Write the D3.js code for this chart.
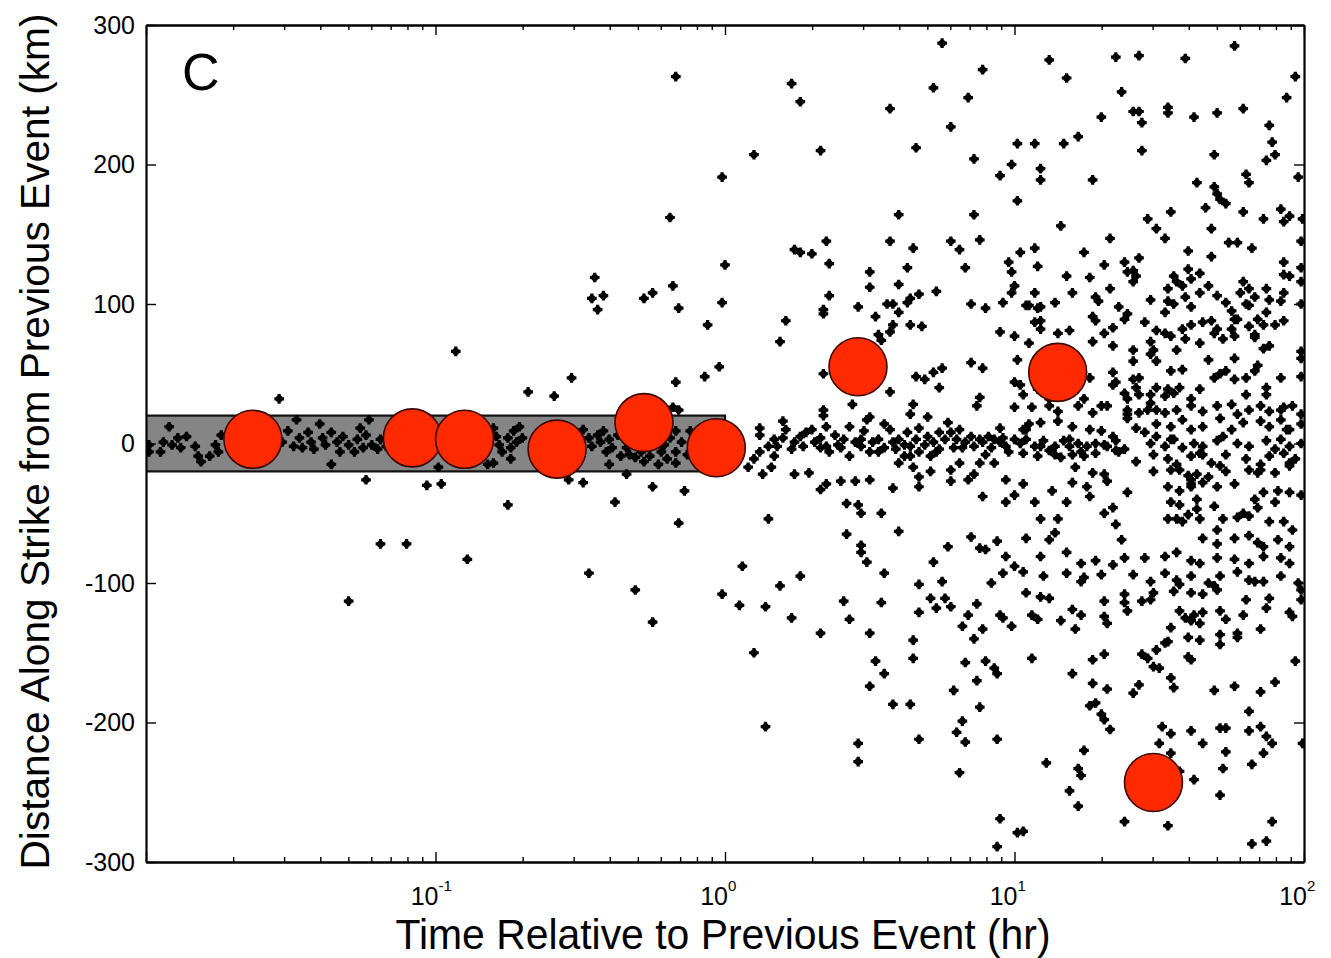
<!DOCTYPE html>
<html>
<head>
<meta charset="utf-8">
<script src="https://cdn.jsdelivr.net/npm/d3@7"></script>
<style>
  body { margin: 0; background: #fff; }
  svg { display: block; }
  text { font-family: "Liberation Sans", Arial, Helvetica, sans-serif; fill: #000; }
</style>
</head>
<body>
<svg id="chart" width="1331" height="958"></svg>
<script>
// ---- data -------------------------------------------------------------
// x: time relative to previous event (hr), y: distance along strike (km)
const xTickExponents = [-1, 0, 1, 2];
const yTickValues = [-300, -200, -100, 0, 100, 200, 300];
const panelLabel = "C";
const xTitle = "Time Relative to Previous Event (hr)";
const yTitle = "Distance Along Strike from Previous Event (km)";

// highlighted window: first hour, within 20 km
const windowHours = [0.01, 1];
const windowKm = [-20, 20];

// large events
const largeHours = [0.0234, 0.0832, 0.126, 0.263, 0.525, 0.933, 2.88, 14.1, 30.2];
const largeKm = [3, 4, 3, -4, 15, -3, 55, 51, -243];

// event pairs stored as [log10(time in hr), distance in km]
const earlyEvents = [
  [-0.93,66],[-1.54,32],[-0.68,37],[-0.59,34],[-0.53,47],[-0.17,263],[-0.01,191],[-0.19,162],[-0.45,119],[-0.46,104],
  [-0.42,106],[-0.44,96],[-0.28,104],[-0.25,108],[-0.18,113],[-0.16,97],[-0.01,101],[-0.06,85],[-0.02,55],[-0.07,48],
  [-0.17,44],[-0.18,26],[-1.30,-113],[-1.19,-72],[-1.10,-72],[-0.89,-83],[-0.75,-44],[-1.03,-30],[-0.98,-29],[-1.24,-26],
  [-0.54,-26],[-0.49,-28],[-0.38,-42],[-0.25,-31],[-0.14,-34],[-0.16,-57],[-0.47,-93],[-0.31,-105],[-0.25,-128],[-0.01,-108],
  [-0.99,-17],[-0.34,-22],[-0.16,24],
  [-1.92,12],[-1.99,-1],[-1.99,-6],[-1.94,1],[-1.95,-6],[-1.91,-1],[-1.89,4],[-1.88,-3],[-1.86,5],[-1.83,-2],
  [-1.82,-9],[-1.81,-13],[-1.78,-9],[-1.76,-1],[-1.74,6],[-1.75,-6],[-1.53,1],[-1.51,9],[-1.49,-2],[-1.48,17],
  [-1.47,4],[-1.46,-3],[-1.44,8],[-1.43,1],[-1.42,-4],[-1.40,14],[-1.39,4],[-1.38,-1],[-1.36,8],[-1.36,-15],
  [-1.34,1],[-1.33,-6],[-1.32,5],[-1.30,-1],[-1.28,-6],[-1.27,3],[-1.26,11],[-1.25,-3],[-1.24,6],[-1.23,17],
  [-1.22,-1],[-1.20,-4],[-1.19,3],[-1.17,-2],
  [-0.80,11],[-0.79,5],[-0.78,-1],[-0.77,-6],[-0.75,4],[-0.74,-3],[-0.73,9],[-0.71,12],[-0.72,1],[-0.70,4],
  [-0.74,-11],[-0.80,-14],[-0.82,-15],[-0.49,10],[-0.47,4],[-0.46,-2],[-0.44,6],[-0.43,1],[-0.42,9],[-0.41,-6],
  [-0.40,3],[-0.39,-3],[-0.40,-15],[-0.37,6],[-0.36,-9],[-0.34,-3],[-0.33,-8],[-0.31,-10],[-0.29,-6],[-0.28,-13],
  [-0.26,-9],[-0.23,-15],[-0.22,-6],[-0.21,-1],[-0.20,-11],[-0.19,4],[-0.17,9],[-0.17,-6],[-0.15,1],[-0.13,-8],
  [-0.12,9],[-0.11,-3],[-0.17,-14]
];

const hourEvents = [
  [0.00,128],[0.05,-116],
  [0.75,287],[0.89,268],[0.23,258],[0.26,245],[0.72,255],[0.84,248],[0.57,240],[0.78,227],[0.10,207],[0.33,210],
  [0.66,212],[0.86,204],[1.01,215],[0.99,200],[0.95,192],[1.01,174],[0.60,164],[0.86,164],[0.24,139],[0.26,137],
  [0.30,136],[0.35,145],[0.36,129],[0.57,145],[0.65,140],[0.78,145],[0.81,139],[0.88,146],[0.83,126],[0.63,126],
  [0.50,123],[0.50,112],[0.60,114],[0.36,106],[0.67,107],[0.73,109],[0.98,130],[0.99,123],[0.99,108],[1.00,113],
  [0.96,101],[0.85,100],[0.90,97],[0.46,98],[0.56,100],[0.58,100],[0.63,101],[0.64,104],[0.34,96],
  [0.34,93],[0.52,91],[0.21,88],[0.19,73],[0.60,94],[0.58,85],[0.64,85],[0.68,84],[0.53,78],[0.57,80],
  [0.54,74],[0.95,80],[1.00,77],[0.85,58],[0.89,54],[0.75,54],[0.72,51],[0.69,46],[0.66,48],[0.74,40],
  [1.00,44],[0.34,50],[0.57,37],[0.44,28],[0.65,28],[0.64,21],[0.88,33],[0.87,27],[1.00,26],[0.34,24],[0.34,20],
  [0.20,16],[0.12,11],[0.12,6],[0.15,-2],[0.12,-6],[0.10,-11],[0.08,-17],[0.17,-9],[0.16,-17],[0.18,-2],
  [0.20,4],[0.21,10],[0.24,1],[0.26,5],[0.27,-2],[0.28,8],[0.30,10],[0.31,1],[0.33,-3],[0.35,-2],
  [0.35,12],[0.36,-6],[0.39,-1],[0.40,-3],[0.41,3],[0.43,-9],[0.43,12],[0.45,1],[0.47,-2],[0.48,9],
  [0.49,17],[0.50,19],[0.50,-6],[0.51,1],[0.53,3],[0.55,14],[0.55,-3],[0.57,10],[0.58,1],[0.59,-4],
  [0.60,3],[0.62,-9],[0.63,8],[0.64,-2],[0.64,-9],[0.66,3],[0.67,11],[0.67,-6],[0.69,-1],[0.70,19],
  [0.70,5],[0.71,-9],[0.72,1],[0.74,8],[0.74,-4],[0.76,3],[0.77,15],[0.78,8],[0.79,-3],[0.80,3],
  [0.81,10],[0.83,1],[0.85,5],[0.86,-2],[0.88,3],[0.89,1],[0.91,5],[0.92,-3],[0.93,3],[0.95,11],
  [0.95,1],[0.97,-2],[1.00,3],[0.60,-14],[0.65,-17],[0.67,-24],[0.71,-20],[0.78,-19],[0.81,-14],[0.84,-26],
  [0.86,-22],[0.88,-14],[0.93,-14],[0.97,-26],
  [0.23,-4],[0.38,6],[0.53,-6],[0.62,-1],[0.73,-6],[0.82,-3],[0.90,-8],[0.96,4],[0.98,-6],[0.47,3],
  [0.33,4],[0.17,3],
  [0.13,-22],[0.24,-22],[0.29,-21],[0.33,-33],[0.35,-29],[0.40,-27],[0.45,-27],[0.50,-26],[0.58,-32],[0.67,-31],
  [0.78,-27],[0.89,-38],[0.97,-42],[1.00,-37],[0.42,-43],[0.46,-44],[0.47,-50],[0.54,-50],[0.15,-54],[0.42,-65],
  [0.60,-63],[0.47,-73],[0.47,-78],[0.49,-85],[0.77,-74],[0.85,-67],[0.88,-75],[0.90,-76],[0.94,-70],[0.97,-81],
  [1.00,-88],[0.06,-88],[0.26,-95],[0.19,-102],[0.55,-93],[0.72,-85],[0.75,-99],[0.67,-101],[0.92,-100],[0.96,-93],
  [0.14,-117],[0.23,-125],[0.41,-113],[0.43,-126],[0.54,-114],[0.33,-136],[0.50,-136],[0.10,-150],[0.65,-141],[0.65,-154],
  [0.52,-156],[0.55,-165],[0.50,-174],[0.58,-187],[0.64,-187],[0.14,-203],[0.46,-215],[0.46,-228],[0.67,-212],[0.67,-121],
  [0.71,-111],[0.76,-111],[0.73,-118],[0.78,-117],[0.84,-123],[0.87,-115],[0.82,-131],[0.89,-133],[0.86,-140],[0.95,-123],
  [0.96,-125],[0.99,-131],[0.83,-157],[0.90,-156],[0.93,-161],[0.94,-165],[0.87,-170],[0.79,-177],[0.88,-189],[0.82,-199],
  [0.80,-207],[0.83,-214],[0.94,-212],[0.81,-236],[0.95,-269],[1.01,-279],[0.94,-289]
];

const dayEvents = [
  [1.12,275],[1.35,277],[1.43,278],[1.59,276],[1.76,285],[1.18,262],[1.97,263],[1.37,252],[1.94,248],[1.30,234],
  [1.41,238],[1.43,238],[1.44,230],[1.53,241],[1.53,237],[1.62,234],[1.70,237],[1.79,240],[1.88,228],[1.89,216],
  [1.90,207],[1.87,203],[1.07,215],[1.17,215],[1.22,220],[1.44,210],[1.69,207],[1.09,197],[1.09,189],[1.27,189],
  [1.63,187],[1.69,184],[1.70,179],[1.71,175],[1.73,172],[1.80,193],[1.81,187],[1.98,191],[1.66,169],[1.79,166],
  [1.86,161],[1.92,168],[1.95,163],[1.93,159],[1.995,161],[1.99,145],[1.16,156],[1.46,161],[1.54,166],[1.49,154],
  [1.52,147],[1.68,154],[1.33,147],[1.02,137],[1.07,140],[1.24,137],[1.74,144],[1.77,144],[1.82,140],[1.60,138],
  [1.68,134],[1.08,127],[1.18,120],[1.26,119],[1.31,128],[1.38,130],[1.43,133],[1.39,123],[1.41,124],[1.42,120],
  [1.41,116],[1.07,108],[1.20,108],[1.28,105],[1.29,102],[1.33,111],[1.14,101],[1.05,99],[1.09,98],[1.36,98],
  [1.47,103],[1.55,120],[1.56,116],[1.58,113],[1.60,125],[1.61,118],[1.64,122],[1.67,113],[1.53,111],[1.53,102],
  [1.59,105],[1.61,98],[1.64,108],[1.70,106],[1.73,101],[1.79,116],[1.78,108],[1.81,111],[1.83,105],[1.87,111],
  [1.88,103],[1.93,121],[1.95,120],[1.93,130],[1.93,108],[1.99,126],[1.99,116],[1.99,100],
  [1.04,99],[1.08,97],[1.39,93],[1.52,94],[1.55,100],[1.75,95],[1.81,99],[1.87,94],[1.92,102],
  [1.07,87],[1.09,88],[1.09,82],[1.15,79],[1.19,81],[1.27,91],[1.28,88],[1.31,79],[1.34,83],[1.38,89],
  [1.45,87],[1.49,81],[1.52,79],[1.58,82],[1.61,85],[1.65,87],[1.68,88],[1.70,82],[1.75,82],[1.77,89],
  [1.81,84],[1.84,89],[1.86,85],[1.90,85],[1.93,88],[1.76,89],[1.83,78],[1.86,68],[1.80,100],
  [1.05,72],[1.27,73],[1.34,70],[1.41,67],[1.47,73],[1.48,67],[1.54,77],[1.56,67],[1.59,75],[1.64,72],
  [1.69,79],[1.72,75],[1.76,77],[1.83,76],[1.88,70],[1.99,66],
  [1.01,60],[1.41,59],[1.47,64],[1.49,59],[1.67,60],[1.76,61],[1.84,56],[1.99,61],
  [1.26,47],[1.34,51],[1.35,44],[1.43,47],[1.54,52],[1.58,53],[1.49,40],[1.53,39],[1.57,40],[1.64,39],
  [1.69,47],[1.71,50],[1.73,52],[1.76,46],[1.80,47],[1.83,52],[1.87,40],[1.92,47],[1.99,48],[1.41,46],
  [1.02,42],[1.03,35],[1.08,39],[1.12,32],[1.24,32],[1.34,42],[1.38,36],[1.42,40],[1.47,35],[1.52,34],
  [1.55,36],[1.61,32],[1.80,35],[1.43,35],[1.87,35],
  [1.06,26],[1.12,27],[1.15,23],[1.22,27],[1.27,22],[1.30,27],[1.32,27],[1.39,32],[1.39,24],[1.43,22],
  [1.47,29],[1.49,24],[1.52,22],[1.56,24],[1.61,27],[1.65,23],[1.70,27],[1.75,28],[1.77,21],[1.81,24],
  [1.85,27],[1.88,23],[1.93,26],[1.96,27],[1.99,21],[1.46,24],[1.39,21],[1.92,24],
  [1.03,10],[1.05,14],[1.09,15],[1.15,16],[1.20,12],[1.26,10],[1.30,9],[1.39,18],[1.42,11],[1.45,8],
  [1.49,14],[1.54,12],[1.58,17],[1.61,10],[1.65,12],[1.71,18],[1.75,10],[1.79,15],[1.85,16],[1.88,12],
  [1.92,17],[1.94,10],[1.99,14],[1.04,10],[1.95,10],
  [1.02,0],[1.04,3],[1.07,-2],[1.10,2],[1.14,-2],[1.17,2],[1.19,-2],[1.22,0],[1.25,-2],[1.28,0],
  [1.32,-2],[1.35,2],[1.38,-4],[1.47,0],[1.49,5],[1.52,-2],[1.55,3],[1.58,-3],[1.62,0],[1.65,-2],
  [1.70,2],[1.72,5],[1.77,0],[1.81,-2],[1.87,2],[1.92,3],[1.95,-2],[1.99,0],
  [1.09,-2],[1.14,-8],[1.19,3],[1.23,-6],[1.31,-1],[1.36,-6],[1.34,5],[1.54,3],[1.65,-8],[1.57,-19],
  [1.90,-4],[1.97,-11],
  [1.03,-7],[1.08,-9],[1.12,-5],[1.16,-10],[1.20,-8],[1.24,-9],[1.28,-7],[1.35,-5],[1.42,-13],[1.48,-8],
  [1.53,-11],[1.56,-15],[1.61,-9],[1.64,-7],[1.68,-14],[1.73,-8],[1.80,-11],[1.85,-15],[1.88,-9],[1.93,-7],
  [1.95,-14],[1.85,-19],
  [1.21,-17],[1.27,-21],[1.31,-22],[1.32,-27],[1.48,-20],[1.54,-19],[1.60,-23],[1.61,-26],[1.63,-22],[1.65,-28],
  [1.71,-16],[1.73,-20],[1.81,-19],[1.84,-21],[1.90,-21],[1.95,-16],[1.67,-24],
  [1.03,-29],[1.13,-34],[1.20,-28],[1.25,-31],[1.26,-38],[1.39,-35],[1.53,-31],[1.57,-34],[1.61,-29],[1.70,-31],
  [1.76,-29],[1.83,-40],[1.86,-35],[1.91,-34],[1.95,-35],[1.99,-37],[1.61,-31],
  [1.07,-42],[1.18,-42],[1.31,-50],[1.34,-46],[1.54,-42],[1.57,-44],[1.63,-47],[1.69,-45],[1.79,-50],[1.84,-46],
  [1.90,-42],[1.63,-40],[1.60,-51],
  [1.09,-54],[1.15,-54],[1.35,-58],[1.53,-54],[1.56,-54],[1.58,-56],[1.64,-54],[1.70,-62],[1.72,-54],[1.77,-53],
  [1.81,-52],[1.88,-56],[1.93,-56],[1.96,-62],
  [1.04,-68],[1.12,-69],[1.14,-64],[1.37,-69],[1.65,-68],[1.70,-72],[1.76,-68],[1.81,-66],[1.84,-71],[1.86,-74],
  [1.91,-69],[1.95,-74],
  [1.09,-81],[1.18,-78],[1.23,-86],[1.28,-84],[1.34,-87],[1.38,-82],[1.45,-82],[1.52,-81],[1.56,-78],[1.61,-84],
  [1.64,-86],[1.70,-82],[1.76,-83],[1.81,-86],[1.86,-81],[1.92,-82],[1.95,-86],
  [1.03,-92],[1.10,-95],[1.18,-93],[1.24,-96],[1.30,-94],[1.41,-94],[1.47,-99],[1.52,-93],[1.56,-98],[1.61,-95],
  [1.67,-100],[1.71,-95],[1.77,-92],[1.81,-98],[1.86,-99],[1.92,-95],[1.98,-100],
  [1.04,-107],[1.09,-110],[1.12,-111],[1.23,-99],[1.31,-113],[1.38,-114],[1.39,-120],[1.38,-108],[1.44,-113],[1.47,-112],
  [1.48,-107],[1.55,-106],[1.57,-101],[1.61,-107],[1.65,-108],[1.69,-102],[1.70,-105],[1.80,-112],[1.83,-99],[1.88,-111],
  [1.99,-105],[1.99,-112],
  [1.06,-123],[1.08,-126],[1.16,-127],[1.20,-119],[1.23,-123],[1.21,-133],[1.31,-124],[1.32,-129],[1.57,-120],[1.59,-125],
  [1.61,-127],[1.62,-123],[1.64,-129],[1.65,-121],[1.71,-120],[1.73,-126],[1.79,-123],[1.87,-118],[1.95,-121],[1.96,-124],
  [1.54,-132],[1.60,-139],[1.64,-141],[1.71,-137],[1.71,-144],[1.77,-136],[1.77,-139],[1.85,-133],[1.52,-143],[1.53,-142],
  [1.06,-154],[1.27,-155],[1.31,-151],[1.44,-151],[1.46,-154],[1.48,-160],[1.50,-161],[1.49,-148],[1.60,-153],[1.61,-155],
  [1.97,-156],
  [1.20,-165],[1.27,-172],[1.32,-176],[1.41,-179],[1.43,-173],[1.54,-168],[1.55,-175],[1.69,-177],[1.76,-174],[1.85,-178],
  [1.90,-171],
  [1.26,-188],[1.28,-186],[1.30,-194],[1.31,-198],[1.33,-205],[1.51,-203],[1.54,-208],[1.50,-215],[1.61,-206],[1.65,-215],
  [1.71,-204],[1.73,-204],[1.73,-221],[1.81,-192],[1.81,-206],[1.85,-203],[1.87,-210],[1.89,-215],[1.86,-222],[1.82,-230],
  [1.995,-215],
  [1.11,-229],[1.24,-220],[1.22,-233],[1.23,-238],[1.19,-249],[1.22,-260],[1.54,-222],[1.57,-235],[1.62,-241],[1.72,-233],
  [1.71,-252],[1.38,-271],[1.53,-274],[1.89,-271],[1.82,-287],[1.87,-285],[1.03,-278]
];

// ---- layout -----------------------------------------------------------
const W = 1331, H = 958;
const margin = { top: 25, right: 27, bottom: 96, left: 146 };
const plotW = W - margin.left - margin.right;
const plotH = H - margin.top - margin.bottom;

const svg = d3.select("#chart");
const g = svg.append("g").attr("transform", `translate(${margin.left},${margin.top})`);

const x = d3.scaleLog().domain([0.01, 100]).range([0, plotW]);
const y = d3.scaleLinear().domain([-300, 300]).range([plotH, 0]);

svg.append("defs").append("clipPath").attr("id", "plotClip")
  .append("rect").attr("width", plotW).attr("height", plotH);

const plot = g.append("g").attr("clip-path", "url(#plotClip)");

// highlighted window
plot.append("rect")
  .attr("x", x(windowHours[0]) - 4)
  .attr("y", y(windowKm[1]))
  .attr("width", x(windowHours[1]) - x(windowHours[0]) + 4)
  .attr("height", y(windowKm[0]) - y(windowKm[1]))
  .attr("fill", "#858585")
  .attr("stroke", "#111")
  .attr("stroke-width", 2.2);

// small events
const allEvents = earlyEvents.concat(hourEvents, dayEvents)
  .map(([lt, km]) => ({ hours: Math.pow(10, lt), km }));

const crossPath = d3.symbol().type(d3.symbolCross).size(52)();
const dots = plot.append("g").selectAll("g")
  .data(allEvents).join("g")
  .attr("transform", d => `translate(${x(d.hours)},${y(d.km)})`);
dots.append("circle").attr("r", 3.5).attr("fill", "#000");
dots.append("path").attr("d", crossPath).attr("fill", "#000");

// large events
const large = largeHours.map((h, i) => ({ hours: h, km: largeKm[i] }));
plot.append("g").selectAll("circle")
  .data(large).join("circle")
  .attr("cx", d => x(d.hours))
  .attr("cy", d => y(d.km))
  .attr("r", 29)
  .attr("fill", "#ff2a00")
  .attr("stroke", "#3a0800")
  .attr("stroke-width", 1.6);

// ---- axes -------------------------------------------------------------
const majorX = d3.range(-2, 3).map(e => Math.pow(10, e));
const minorX = [];
for (let e = -2; e < 2; e++) for (let k = 2; k <= 9; k++) minorX.push(k * Math.pow(10, e));

function styleAxis(sel) {
  sel.selectAll("path.domain").attr("stroke", "#000").attr("stroke-width", 2.2);
  sel.selectAll(".tick line").attr("stroke", "#000").attr("stroke-width", 1.4);
}

g.append("g").attr("transform", `translate(0,${plotH})`)
  .call(d3.axisBottom(x).tickValues(majorX).tickSize(-10).tickSizeOuter(0).tickFormat(""))
  .call(styleAxis);
g.append("g").attr("transform", `translate(0,${plotH})`)
  .call(d3.axisBottom(x).tickValues(minorX).tickSize(-5).tickSizeOuter(0).tickFormat(""))
  .call(styleAxis);
g.append("g")
  .call(d3.axisTop(x).tickValues(majorX).tickSize(-10).tickSizeOuter(0).tickFormat(""))
  .call(styleAxis);
g.append("g")
  .call(d3.axisTop(x).tickValues(minorX).tickSize(-5).tickSizeOuter(0).tickFormat(""))
  .call(styleAxis);

const yAxisL = g.append("g")
  .call(d3.axisLeft(y).tickValues(yTickValues).tickSize(-10).tickSizeOuter(0).tickPadding(11).tickFormat(d3.format("d")))
  .call(styleAxis);
yAxisL.selectAll("text").attr("font-size", 25).attr("font-family", "Liberation Sans, Arial, sans-serif")
  .attr("fill", "#000").text(d => (d < 0 ? "-" : "") + Math.abs(d));

g.append("g").attr("transform", `translate(${plotW},0)`)
  .call(d3.axisRight(y).tickValues(yTickValues).tickSize(-10).tickSizeOuter(0).tickFormat(""))
  .call(styleAxis);

// x tick labels as powers of ten
const xLab = g.append("g").attr("class", "xlabels");
xTickExponents.forEach(e => {
  const px = x(Math.pow(10, e));
  xLab.append("text")
    .attr("x", px + 3).attr("y", plotH + 43)
    .attr("text-anchor", "end").attr("font-size", 25)
    .text("10");
  xLab.append("text")
    .attr("x", px + 3).attr("y", plotH + 29)
    .attr("text-anchor", "start").attr("font-size", 15)
    .text(e < 0 ? "-" + Math.abs(e) : String(e));
});

// axis titles
svg.append("text")
  .attr("x", margin.left + plotW / 2 - 2)
  .attr("y", 949)
  .attr("text-anchor", "middle")
  .attr("font-size", 42)
  .attr("textLength", 655)
  .attr("lengthAdjust", "spacingAndGlyphs")
  .text(xTitle);

svg.append("text")
  .attr("transform", `translate(49,${margin.top + plotH / 2 - 2}) rotate(-90)`)
  .attr("text-anchor", "middle")
  .attr("font-size", 40)
  .attr("textLength", 856)
  .attr("lengthAdjust", "spacingAndGlyphs")
  .text(yTitle);

// panel letter
g.append("text")
  .attr("x", 36).attr("y", 65)
  .attr("font-size", 52)
  .attr("fill", "#222")
  .text(panelLabel);
</script>
</body>
</html>
